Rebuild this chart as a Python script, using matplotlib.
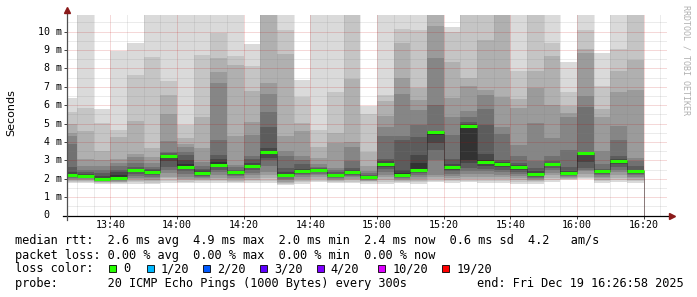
import numpy as np
import pandas as pd
import matplotlib
matplotlib.use("Agg")
import matplotlib.pyplot as plt
import matplotlib.dates as mdates
from matplotlib.patches import Rectangle
from matplotlib.ticker import MultipleLocator
from matplotlib.transforms import ScaledTranslation

# one column per 5 minute step (20 pings, min and max dropped -> 18 smoke values)
step_start = pd.date_range("2025-12-19 13:25", periods=35, freq="5min")
step_edges = pd.date_range("2025-12-19 13:25", periods=36, freq="5min")
end_time = pd.Timestamp("2025-12-19 16:26:58")

# median rtt per step, ms
median_ms = [2.21, 2.16, 2.00, 2.03, 2.45, 2.37, 3.23, 2.66, 2.29, 2.77,
             2.34, 2.68, 3.45, 2.21, 2.41, 2.47, 2.18, 2.36, 2.09, 2.79,
             2.21, 2.49, 4.53, 2.63, 4.88, 2.90, 2.81, 2.63, 2.27, 2.81,
             2.29, 3.39, 2.43, 2.99, 2.41]

# upper smoke values per step (ping 18 down to ping 10), ms
smoke_hi = [
    [6.41, 5.65, 4.98, 4.48, 4.33, 3.90, 2.66, 2.39, 2.25],
    [11.5, 5.87, 4.60, 3.08, 2.67, 2.50, 2.35, 2.25, 2.18],
    [5.80, 5.02, 3.53, 3.03, 2.70, 2.50, 2.30, 2.15, 2.05],
    [8.97, 4.65, 4.29, 3.06, 2.85, 2.70, 2.50, 2.39, 2.20],
    [9.40, 7.64, 5.16, 3.35, 3.20, 2.84, 2.66, 2.55, 2.48],
    [11.5, 8.60, 3.69, 3.20, 2.84, 2.66, 2.52, 2.45, 2.40],
    [11.5, 7.32, 6.56, 5.52, 4.07, 3.48, 3.38, 3.30, 3.26],
    [11.5, 4.93, 4.20, 3.89, 3.70, 3.48, 3.30, 3.00, 2.80],
    [11.5, 8.73, 5.33, 3.66, 2.90, 2.70, 2.55, 2.45, 2.35],
    [11.5, 9.95, 8.55, 7.83, 7.23, 4.11, 3.30, 3.08, 2.90],
    [11.5, 8.68, 8.19, 4.33, 2.76, 2.62, 2.50, 2.42, 2.37],
    [9.33, 8.14, 6.78, 5.07, 4.39, 3.26, 3.08, 2.85, 2.72],
    [11.5, 11.5, 11.5, 7.23, 6.61, 5.65, 4.79, 3.66, 3.50],
    [11.5, 10.09, 8.79, 4.33, 3.53, 3.21, 2.60, 2.39, 2.25],
    [7.38, 6.42, 5.02, 4.57, 3.21, 3.03, 2.80, 2.55, 2.45],
    [11.5, 4.66, 3.75, 3.12, 2.80, 2.65, 2.57, 2.52, 2.49],
    [11.5, 6.69, 4.51, 3.93, 2.58, 2.45, 2.35, 2.26, 2.20],
    [11.5, 11.5, 7.41, 4.02, 3.75, 2.94, 2.60, 2.45, 2.40],
    [5.93, 5.53, 3.48, 2.67, 2.40, 2.30, 2.20, 2.15, 2.11],
    [11.5, 6.56, 6.20, 5.42, 4.79, 4.30, 3.08, 2.95, 2.83],
    [11.5, 10.15, 9.37, 7.47, 6.60, 4.33, 4.11, 2.50, 2.30],
    [11.5, 10.06, 6.92, 6.29, 5.75, 4.93, 4.26, 3.30, 2.85],
    [11.5, 11.5, 11.5, 10.31, 8.55, 6.02, 4.62, 4.57, 4.55],
    [10.24, 10.00, 8.37, 6.38, 5.38, 4.39, 3.06, 2.80, 2.68],
    [11.5, 11.5, 7.47, 7.05, 5.66, 5.38, 5.10, 4.95, 4.90],
    [11.5, 11.5, 9.55, 6.83, 6.56, 5.78, 4.93, 3.35, 3.00],
    [11.5, 11.5, 11.5, 6.43, 4.80, 4.44, 3.03, 2.90, 2.85],
    [11.5, 7.87, 6.33, 5.87, 3.84, 3.21, 2.85, 2.72, 2.66],
    [11.5, 11.5, 7.87, 6.92, 5.02, 2.94, 2.58, 2.40, 2.32],
    [11.5, 9.40, 8.68, 6.02, 4.21, 3.25, 2.95, 2.85, 2.83],
    [8.37, 6.69, 5.96, 5.56, 5.35, 3.57, 2.63, 2.42, 2.32],
    [11.5, 10.06, 9.04, 8.86, 6.51, 5.89, 3.48, 3.42, 3.40],
    [8.86, 7.05, 5.78, 5.35, 3.53, 2.81, 2.55, 2.47, 2.45],
    [11.5, 9.04, 7.88, 6.69, 4.84, 4.11, 3.21, 3.05, 3.01],
    [11.5, 11.5, 8.46, 6.83, 3.12, 2.94, 2.67, 2.50, 2.45],
]

# lower smoke values per step (ping 1 up to ping 9), ms
smoke_lo = [
    [1.78, 1.83, 1.88, 1.93, 1.98, 2.03, 2.08, 2.13, 2.18],
    [1.78, 1.84, 1.89, 1.94, 1.98, 2.02, 2.06, 2.10, 2.14],
    [1.72, 1.76, 1.80, 1.84, 1.87, 1.90, 1.93, 1.96, 1.98],
    [1.70, 1.75, 1.80, 1.84, 1.88, 1.92, 1.95, 1.98, 2.01],
    [1.72, 1.80, 1.88, 1.96, 2.05, 2.15, 2.25, 2.35, 2.42],
    [1.70, 1.78, 1.86, 1.94, 2.02, 2.10, 2.20, 2.28, 2.34],
    [1.78, 1.90, 2.05, 2.12, 2.30, 2.50, 2.66, 2.95, 3.15],
    [1.76, 1.84, 1.92, 2.00, 2.10, 2.25, 2.40, 2.52, 2.62],
    [1.78, 1.85, 1.92, 1.98, 2.04, 2.10, 2.16, 2.22, 2.26],
    [1.75, 1.85, 1.95, 2.05, 2.20, 2.35, 2.50, 2.62, 2.72],
    [1.75, 1.82, 1.90, 1.98, 2.06, 2.14, 2.22, 2.28, 2.31],
    [1.75, 1.85, 1.95, 2.05, 2.18, 2.32, 2.45, 2.56, 2.64],
    [1.78, 1.90, 2.05, 2.20, 2.39, 2.70, 3.00, 3.12, 3.40],
    [1.66, 1.70, 1.76, 1.84, 1.92, 2.00, 2.08, 2.14, 2.18],
    [1.70, 1.80, 1.90, 2.00, 2.10, 2.18, 2.26, 2.33, 2.38],
    [1.80, 1.90, 2.00, 2.10, 2.18, 2.26, 2.34, 2.40, 2.44],
    [1.76, 1.82, 1.88, 1.94, 1.99, 2.04, 2.09, 2.13, 2.16],
    [1.76, 1.84, 1.92, 2.00, 2.08, 2.15, 2.22, 2.28, 2.33],
    [1.74, 1.80, 1.85, 1.89, 1.93, 1.97, 2.01, 2.04, 2.07],
    [1.72, 1.82, 1.95, 2.08, 2.22, 2.38, 2.52, 2.65, 2.75],
    [1.76, 1.83, 1.89, 1.95, 2.00, 2.05, 2.10, 2.15, 2.18],
    [1.74, 1.82, 1.90, 2.00, 2.10, 2.20, 2.30, 2.38, 2.45],
    [1.80, 1.90, 2.00, 2.10, 2.21, 3.03, 3.57, 3.93, 4.40],
    [1.78, 1.86, 1.95, 2.05, 2.15, 2.27, 2.40, 2.50, 2.58],
    [1.80, 1.90, 2.00, 2.12, 2.25, 2.40, 2.58, 2.85, 3.03],
    [1.78, 1.88, 2.00, 2.12, 2.25, 2.40, 2.55, 2.70, 2.84],
    [1.76, 1.86, 1.96, 2.08, 2.20, 2.35, 2.50, 2.64, 2.76],
    [1.74, 1.82, 1.92, 2.02, 2.14, 2.26, 2.38, 2.50, 2.58],
    [1.74, 1.80, 1.86, 1.92, 1.98, 2.05, 2.12, 2.18, 2.24],
    [1.80, 1.92, 2.05, 2.18, 2.32, 2.46, 2.60, 2.70, 2.77],
    [1.92, 1.96, 2.00, 2.04, 2.08, 2.13, 2.18, 2.23, 2.26],
    [2.00, 2.05, 2.12, 2.25, 2.40, 2.50, 2.57, 2.90, 3.30],
    [1.78, 1.86, 1.94, 2.02, 2.10, 2.18, 2.26, 2.34, 2.40],
    [1.80, 1.92, 2.05, 2.20, 2.35, 2.50, 2.65, 2.80, 2.93],
    [1.78, 1.86, 1.94, 2.02, 2.10, 2.18, 2.26, 2.33, 2.38],
]

ytick_vals = [0, 1, 2, 3, 4, 5, 6, 7, 8, 9, 10]
ytick_labels = ["0", "1 m", "2 m", "3 m", "4 m", "5 m", "6 m", "7 m", "8 m", "9 m", "10 m"]

legend_lines = [
    "median rtt:  2.6 ms avg  4.9 ms max  2.0 ms min  2.4 ms now  0.6 ms sd  4.2   am/s",
    "packet loss: 0.00 % avg  0.00 % max  0.00 % min  0.00 % now",
    "loss color:",
    "probe:       20 ICMP Echo Pings (1000 Bytes) every 300s",
]
end_label = "end: Fri Dec 19 16:26:58 2025"
loss_labels = ["0", "1/20", "2/20", "3/20", "4/20", "10/20", "19/20"]
loss_colors = ["#26ff00", "#00b8ff", "#0059ff", "#5e00ff", "#7e00ff", "#dd00ff", "#ff0000"]

MONO = "DejaVu Sans Mono"
W, H = 697, 297


def fx(x):
    return x / W


def fy(y):
    return 1 - y / H


fig = plt.figure(figsize=(W / 100, H / 100), dpi=100)
fig.patch.set_facecolor("white")
ax = fig.add_axes([fx(67), fy(215.5), 600 / W, (215.5 - 14.5) / H])

x0 = mdates.date2num(step_start)
edges = mdates.date2num(step_edges)
width = 5 / 1440
hi = np.array(smoke_hi)
lo = np.array(smoke_lo)

# smoke bands, outer ones light, inner ones dark
for k in range(9):
    g = int(190 / 9 * (8 - k)) + 50
    col = "#%02x%02x%02x" % (g, g, g)
    ax.bar(x0, hi[:, k] - lo[:, k], bottom=lo[:, k], width=width, align="edge",
           color=col, linewidth=0, antialiased=False, zorder=1)

ax.stairs(median_ms, edges, color="#202020", lw=0.72, ls=(0, (1, 1)), zorder=3)
ax.hlines(median_ms, edges[:-1], edges[1:], color=loss_colors[0], lw=2.2, zorder=4)

ax.set_xlim(mdates.date2num(end_time - pd.Timedelta(hours=3)), mdates.date2num(end_time))
ax.set_ylim(0, 10.93)

ax.xaxis.set_major_locator(mdates.MinuteLocator(byminute=[0, 20, 40]))
ax.xaxis.set_minor_locator(mdates.MinuteLocator(byminute=range(0, 60, 5)))
ax.xaxis.set_major_formatter(mdates.DateFormatter("%H:%M"))
ax.set_yticks(ytick_vals)
ax.yaxis.set_minor_locator(MultipleLocator(0.5))

ax.grid(which="major", color="#c00000", alpha=0.3, lw=0.72, ls=(0, (1, 1)))
ax.grid(which="minor", color="#808080", alpha=0.3, lw=0.72, ls=(0, (1, 1)))
ax.set_axisbelow(False)

for s in ax.spines.values():
    s.set_visible(False)
ax.tick_params(which="minor", length=0)
ax.tick_params(axis="x", which="major", length=2, width=0.7, color="#404040", pad=1.5,
               labelsize=7.2)
ax.tick_params(axis="y", which="major", length=2, width=0.7, color="#404040",
               labelleft=False)
for lab in ax.get_xticklabels():
    lab.set_family(MONO)

# y labels: number column lines up, "0" has no unit
ytr = ax.get_yaxis_transform()
for v, lab in zip(ytick_vals, ytick_labels):
    shift = 5.5 if " " in lab else 17.5
    ax.text(0, v, lab, transform=ytr + ScaledTranslation(-shift / 100, 0, fig.dpi_scale_trans),
            ha="right", va="center", fontsize=7.2, family=MONO, color="black")

# axis lines with arrows
ax.plot([-4 / 600, 1.005], [0, 0], transform=ax.transAxes, color="black", lw=0.9,
        clip_on=False, zorder=6)
ax.plot([0, 0], [-4 / 201, 1.012], transform=ax.transAxes, color="#505050", lw=0.9,
        clip_on=False, zorder=6)
ax.plot([1.0075], [0], transform=ax.transAxes, marker=">", ms=4, color="#8b1a1a",
        clip_on=False, zorder=7)
ax.plot([0], [1.02], transform=ax.transAxes, marker="^", ms=4, color="#8b1a1a",
        clip_on=False, zorder=7)

fig.text(fx(11), fy(113), "Seconds", rotation=90, ha="center", va="center",
         fontsize=8, family="DejaVu Sans")
fig.text(fx(686), fy(5), "RRDTOOL / TOBI OETIKER", rotation=270, ha="center", va="top",
         fontsize=6, family=MONO, color="#b0b0b0")

rows_y = [240.7, 255, 269, 283.3]
for line, y in zip(legend_lines, rows_y):
    fig.text(fx(15), fy(y), line, ha="left", va="center", fontsize=8.55, family=MONO)
fig.text(fx(477), fy(rows_y[3]), end_label, ha="left", va="center", fontsize=8.55, family=MONO)

box_x = [109.3, 146.7, 203.3, 260, 316.7, 378.3, 442.3]
for bx, lab, col in zip(box_x, loss_labels, loss_colors):
    fig.patches.append(Rectangle((fx(bx), fy(272)), 7 / W, 7 / H, transform=fig.transFigure,
                                 facecolor=col, edgecolor="black", lw=0.6))
    fig.text(fx(bx + 14), fy(rows_y[2]), lab, ha="left", va="center", fontsize=8.55, family=MONO)

fig.savefig("out.png", dpi=100)
